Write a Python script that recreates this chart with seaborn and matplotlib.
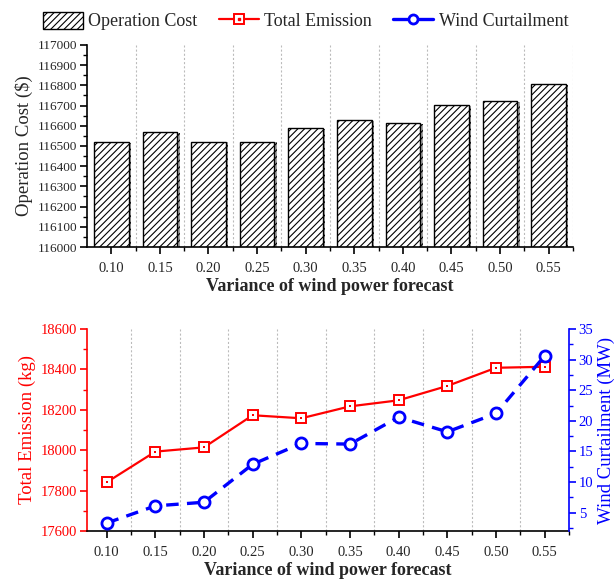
import numpy as np
import pandas as pd
import matplotlib
matplotlib.use("Agg")
import matplotlib.pyplot as plt
import matplotlib.patheffects as pe
from matplotlib.patches import Patch
from matplotlib.lines import Line2D
from matplotlib.ticker import MultipleLocator, FixedLocator
import seaborn as sns

# ---- data ----
variance = [0.10, 0.15, 0.20, 0.25, 0.30, 0.35, 0.40, 0.45, 0.50, 0.55]
variance_labels = ["0.10", "0.15", "0.20", "0.25", "0.30", "0.35", "0.40", "0.45", "0.50", "0.55"]
operation_cost = [116518, 116570, 116522, 116522, 116590, 116627, 116614, 116704, 116722, 116806]
total_emission = [17841, 17993, 18014, 18173, 18158, 18217, 18247, 18318, 18408, 18413]
wind_curtailment = [3.3, 6.1, 6.7, 12.9, 16.3, 16.2, 20.6, 18.2, 21.2, 30.6]

sns.set_theme(style="ticks")
plt.rcParams["font.family"] = ["Liberation Serif", "DejaVu Serif"]
plt.rcParams["hatch.linewidth"] = 0.8
plt.rcParams["lines.scale_dashes"] = False
plt.rcParams["xtick.direction"] = "out"
plt.rcParams["ytick.direction"] = "out"

RED = "#ff0000"
BLUE = "#0000ff"

df_cost = pd.DataFrame({"variance": variance_labels, "cost": operation_cost})
df_line = pd.DataFrame({"variance": variance, "emission": total_emission, "wind": wind_curtailment})

fig = plt.figure(figsize=(6.14, 5.79), dpi=100)
ax1 = fig.add_axes([0.1417, 0.5734, 0.9332 - 0.1417, 0.9223 - 0.5734])
ax2 = fig.add_axes([0.1412, 0.0829, 0.9267 - 0.1412, 0.4318 - 0.0829])

# ---- top: bar chart ----
sns.barplot(data=df_cost, x="variance", y="cost", ax=ax1, color="white",
            edgecolor="black", linewidth=1.0, width=0.71, hatch="/////",
            order=variance_labels)
for p in ax1.patches:
    p.set_path_effects([pe.SimplePatchShadow(offset=(1.8, -0.6), shadow_rgbFace="#999999", alpha=0.9), pe.Normal()])
ax1.set_ylim(116000, 117000)
ax1.set_xlim(-0.5, 9.5)
ax1.yaxis.set_major_locator(MultipleLocator(100))
ax1.yaxis.set_minor_locator(MultipleLocator(50))
ax1.xaxis.set_minor_locator(FixedLocator(np.arange(0.5, 9.6, 1.0)))
ax1.grid(which="minor", axis="x", linestyle=(0, (1.5, 1.5)), color="#bbbbbb", linewidth=0.8)
ax1.set_axisbelow(True)
ax1.spines["top"].set_visible(False)
ax1.spines["right"].set_visible(False)
for s in ["left", "bottom"]:
    ax1.spines[s].set_linewidth(1.2)
    ax1.spines[s].set_color("black")
ax1.tick_params(axis="y", which="major", labelsize=9.5, length=5, width=1.2, color="black", pad=2)
ax1.tick_params(axis="y", which="minor", length=3, width=1.0, color="black")
ax1.tick_params(axis="x", which="major", labelsize=10.5, length=5, width=1.2, color="black", pad=6)
ax1.tick_params(axis="x", which="minor", length=3, width=1.0, color="black")
ax1.set_ylabel("Operation Cost ($)", fontsize=13.5, labelpad=3)
ax1.set_xlabel("Variance of wind power forecast", fontsize=13, fontweight="bold", labelpad=2)

# ---- bottom: dual-axis lines ----
ax3 = ax2.twinx()
sns.lineplot(data=df_line, x="variance", y="emission", ax=ax2, color=RED, linewidth=1.6,
             marker="s", markersize=7.5, markerfacecolor="white", markeredgecolor=RED,
             markeredgewidth=1.4)
sns.scatterplot(data=df_line, x="variance", y="emission", ax=ax2, color=RED,
                marker="s", s=2.5, linewidth=0, zorder=5)
sns.lineplot(data=df_line, x="variance", y="wind", ax=ax3, color=BLUE, linewidth=2.4,
             linestyle=(0, (9, 6)), marker="o", markersize=8, markerfacecolor="white",
             markeredgecolor=BLUE, markeredgewidth=2.0)

ax2.set_xlim(0.0795, 0.575)
ax2.set_ylim(17600, 18600)
ax3.set_ylim(2, 35)
ax2.set_xticks(variance)
ax2.set_xticklabels(variance_labels)
ax2.xaxis.set_minor_locator(FixedLocator([v + 0.025 for v in variance]))
ax2.grid(which="minor", axis="x", linestyle=(0, (1.5, 1.5)), color="#bbbbbb", linewidth=0.8)
ax2.grid(which="major", axis="y", visible=False)
ax2.yaxis.set_major_locator(MultipleLocator(200))
ax2.yaxis.set_minor_locator(MultipleLocator(100))
ax3.yaxis.set_major_locator(MultipleLocator(5))
ax3.yaxis.set_minor_locator(MultipleLocator(2.5))
ax3.set_yticks([5, 10, 15, 20, 25, 30, 35])

for ax in (ax2, ax3):
    ax.spines["top"].set_visible(False)
ax2.spines["right"].set_visible(False)
ax2.spines["left"].set_color(RED)
ax2.spines["left"].set_linewidth(1.2)
ax2.spines["bottom"].set_color("black")
ax2.spines["bottom"].set_linewidth(1.2)
ax3.spines["left"].set_visible(False)
ax3.spines["bottom"].set_visible(False)
ax3.spines["right"].set_color(BLUE)
ax3.spines["right"].set_linewidth(1.2)

ax2.tick_params(axis="y", which="major", labelsize=10.5, length=5, width=1.2, color=RED, labelcolor=RED, pad=2)
ax2.tick_params(axis="y", which="minor", length=3, width=1.0, color=RED)
ax2.tick_params(axis="x", which="major", labelsize=10.5, length=5, width=1.2, color="black", pad=6)
ax2.tick_params(axis="x", which="minor", length=3, width=1.0, color="black")
ax3.tick_params(axis="y", which="major", labelsize=10.5, length=5, width=1.2, color=BLUE, labelcolor=BLUE, pad=2)
ax3.tick_params(axis="y", which="minor", length=3, width=1.0, color=BLUE)

ax2.set_ylabel("Total Emission (kg)", fontsize=13.5, color=RED, labelpad=3)
ax3.set_ylabel("Wind Curtailment (MW)", fontsize=13.5, color=BLUE, labelpad=3)
ax2.set_xlabel("Variance of wind power forecast", fontsize=13, fontweight="bold", labelpad=2)

# ---- legend ----
h_cost = Patch(facecolor="white", edgecolor="black", hatch="/////", linewidth=1.0)
h_em = (Line2D([], [], color=RED, linewidth=1.6, marker="s", markersize=6.5,
               markerfacecolor="white", markeredgecolor=RED, markeredgewidth=1.4),
        Line2D([], [], color=RED, linestyle="none", marker="s", markersize=1.5))
h_wind = Line2D([], [], color=BLUE, linewidth=2.4, marker="o", markersize=6.5,
                markerfacecolor="white", markeredgecolor=BLUE, markeredgewidth=2.0)
fig.legend([h_cost, h_em, h_wind], ["Operation Cost", "Total Emission", "Wind Curtailment"],
           loc="center", bbox_to_anchor=(0.4976, 0.9637), ncol=3, frameon=False,
           fontsize=13, handlelength=2.2, handleheight=1.1, handletextpad=0.3,
           columnspacing=1.2, borderpad=0.2)

fig.savefig("out.png", dpi=100)
